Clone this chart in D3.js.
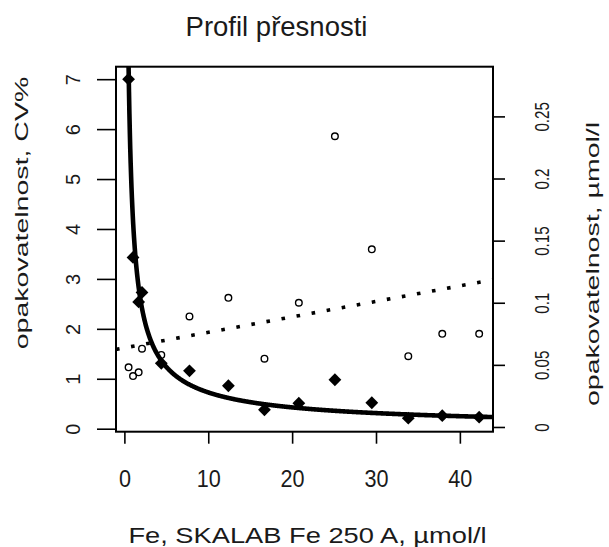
<!DOCTYPE html>
<html lang="cs">
<head>
<meta charset="utf-8">
<title>Profil přesnosti</title>
<script src="https://d3js.org/d3.v7.min.js"></script>
<style>
  body { margin: 0; background: #fff; }
  svg text { font-family: "Liberation Sans", Arial, sans-serif; fill: #1a1a1a; }
  .axis path, .axis line { stroke: #000; stroke-width: 1.6; }
</style>
</head>
<body>
<script>
// Fe level of each control material, µmol/l
var conc = [0.5, 1.03, 1.7, 2.1, 4.4, 7.76, 12.4, 16.7, 20.8, 25.1, 29.5, 33.85, 37.9, 42.3];
// repeatability as CV % (left axis, filled diamonds)
var cv = [7.0, 3.43, 2.54, 2.73, 1.31, 1.16, 0.86, 0.38, 0.51, 0.98, 0.52, 0.21, 0.26, 0.23];
// repeatability as SD, µmol/l (right axis, open circles)
var sd = [0.048, 0.041, 0.044, 0.063, 0.058, 0.089, 0.104, 0.055, 0.100, 0.234, 0.143, 0.057, 0.075, 0.075];
// fitted precision profile CV = a * conc^b, coefficients
var cvModel = [4.26, -0.768];

var xTicks = [0, 10, 20, 30, 40];
var cvTicks = [0, 1, 2, 3, 4, 5, 6, 7];
var sdTicks = [0, 0.05, 0.1, 0.15, 0.2, 0.25];

var width = 609, height = 547;
var box = {left: 116, right: 493, top: 66.7, bottom: 431.7};

var svg = d3.select("body").append("svg")
  .attr("width", width)
  .attr("height", height);

var x = d3.scaleLinear().domain([-1, 43.95]).range([box.left, box.right]);
var yL = d3.scaleLinear().domain([-0.06, 7.25]).range([box.bottom, box.top]);
var yR = d3.scaleLinear().domain([-0.0038, 0.29]).range([box.bottom, box.top]);

// least squares line for the SD trend
function linFit(xs, ys) {
  var mx = d3.mean(xs), my = d3.mean(ys), sxy = 0, sxx = 0;
  xs.forEach(function(v, i) { sxy += (v - mx) * (ys[i] - my); sxx += (v - mx) * (v - mx); });
  var b1 = sxy / sxx;
  return {b0: my - b1 * mx, b1: b1};
}
var sdFit = linFit(conc, sd);

svg.append("clipPath").attr("id", "plotclip")
  .append("rect")
  .attr("x", box.left).attr("y", box.top)
  .attr("width", box.right - box.left).attr("height", box.bottom - box.top);

var plot = svg.append("g").attr("clip-path", "url(#plotclip)");

// SD trend, dotted
var xd = x.domain();
plot.append("line")
  .attr("x1", x(xd[0])).attr("y1", yR(sdFit.b0 + sdFit.b1 * xd[0]))
  .attr("x2", x(xd[1])).attr("y2", yR(sdFit.b0 + sdFit.b1 * xd[1]))
  .attr("stroke", "#000")
  .attr("stroke-width", 3.6)
  .attr("stroke-dasharray", "3.6,11.7");

// CV curve
var curveX = d3.range(0.3, 44.5, 0.05);
plot.append("path")
  .datum(curveX)
  .attr("fill", "none")
  .attr("stroke", "#000")
  .attr("stroke-width", 4.6)
  .attr("d", d3.line()
    .x(function(d) { return x(d); })
    .y(function(d) { return yL(cvModel[0] * Math.pow(d, cvModel[1])); }));

// SD points
plot.selectAll("circle.sd")
  .data(conc)
  .enter().append("circle")
  .attr("class", "sd")
  .attr("cx", function(d) { return x(d); })
  .attr("cy", function(d, i) { return yR(sd[i]); })
  .attr("r", 3.3)
  .attr("fill", "none")
  .attr("stroke", "#000")
  .attr("stroke-width", 1.4);

// CV points
var diamond = d3.symbol().type(d3.symbolSquare).size(82);
plot.selectAll("path.cv")
  .data(conc)
  .enter().append("path")
  .attr("class", "cv")
  .attr("d", diamond)
  .attr("fill", "#000")
  .attr("transform", function(d, i) {
    return "translate(" + x(d) + "," + yL(cv[i]) + ") rotate(45)";
  });

// frame
svg.append("rect")
  .attr("x", box.left).attr("y", box.top)
  .attr("width", box.right - box.left).attr("height", box.bottom - box.top)
  .attr("fill", "none")
  .attr("stroke", "#000")
  .attr("stroke-width", 2);

// bottom axis
var gx = svg.append("g").attr("class", "axis")
  .attr("transform", "translate(0," + box.bottom + ")")
  .call(d3.axisBottom(x).tickValues(xTicks).tickSize(12).tickSizeOuter(0));
gx.select(".domain").remove();
gx.selectAll("text")
  .attr("y", 0).attr("dy", null)
  .style("font-size", "24px")
  .attr("transform", "translate(0,55.5) scale(0.9,1)");

// left axis
var gl = svg.append("g").attr("class", "axis")
  .attr("transform", "translate(" + box.left + ",0)")
  .call(d3.axisLeft(yL).tickValues(cvTicks).tickSize(19).tickSizeOuter(0));
gl.select(".domain").remove();
gl.selectAll("text")
  .attr("x", 0).attr("dy", null)
  .attr("text-anchor", "middle")
  .style("font-size", "20px")
  .attr("transform", "translate(-36,0) rotate(-90)");

// right axis
var gr = svg.append("g").attr("class", "axis")
  .attr("transform", "translate(" + box.right + ",0)")
  .call(d3.axisRight(yR).tickValues(sdTicks).tickSize(12).tickSizeOuter(0)
    .tickFormat(d3.format("")));
gr.select(".domain").remove();
gr.selectAll("text")
  .attr("x", 0).attr("dy", null)
  .attr("text-anchor", "middle")
  .style("font-size", "21px")
  .attr("transform", "translate(56,0) rotate(-90) scale(0.72,1)");

// titles
svg.append("text")
  .attr("x", 276.5).attr("y", 36)
  .attr("text-anchor", "middle")
  .style("font-size", "27.5px")
  .text("Profil přesnosti");

svg.append("text")
  .attr("text-anchor", "middle")
  .style("font-size", "22px")
  .attr("transform", "translate(307.5,543) scale(1.24,1)")
  .text("Fe, SKALAB Fe 250 A, µmol/l");

svg.append("text")
  .attr("text-anchor", "middle")
  .style("font-size", "19px")
  .attr("transform", "translate(28,213) rotate(-90) scale(1.5,1)")
  .text("opakovatelnost, CV%");

svg.append("text")
  .attr("text-anchor", "middle")
  .style("font-size", "19px")
  .attr("transform", "translate(599,264) rotate(-90) scale(1.5,1)")
  .text("opakovatelnost, µmol/l");
</script>
</body>
</html>
